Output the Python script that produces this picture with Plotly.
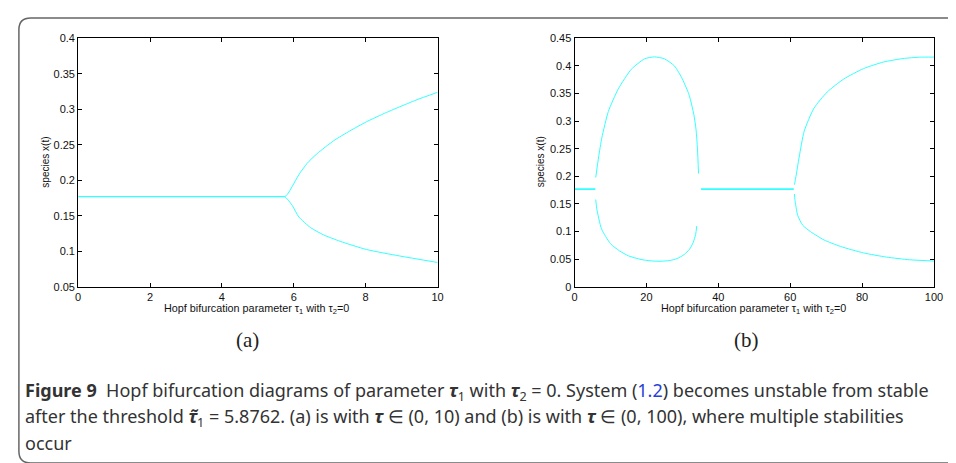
import plotly.graph_objects as go

W, H = 956, 463

# ---- data: panel (a), tau in (0,10) ----
a_steady_tau = [0, 5.75]
a_steady_val = [0.177, 0.177]
a_upper_tau = [5.75, 5.82, 5.96, 6.14, 6.37, 6.65, 7.11, 7.56, 8.02, 8.48, 8.94, 9.40, 10.0]
a_upper_val = [0.177, 0.180, 0.1917, 0.2078, 0.2238, 0.2376, 0.2558, 0.2696, 0.2824, 0.2934, 0.3034, 0.313, 0.324]
a_lower_tau = [5.75, 5.82, 5.96, 6.14, 6.47, 6.83, 7.29, 8.02, 8.94, 10.0]
a_lower_val = [0.177, 0.1735, 0.1643, 0.1483, 0.1332, 0.123, 0.114, 0.1025, 0.0934, 0.0842]

# ---- data: panel (b), tau in (0,100) ----
b_steady1_tau = [0, 5.8]
b_steady1_val = [0.177, 0.177]
b_steady2_tau = [35.2, 61.0]
b_steady2_val = [0.177, 0.177]
b_loop_up_tau = [5.9, 6.7, 7.6, 9.4, 12.2, 15.8, 19.5, 22.3, 25.0, 27.8, 30.0, 31.9, 33.2, 33.8, 34.2, 34.5]
b_loop_up_val = [0.198, 0.235, 0.270, 0.3175, 0.3587, 0.394, 0.4129, 0.4164, 0.4129, 0.400, 0.3763, 0.347, 0.3116, 0.285, 0.25, 0.205]
b_loop_lo_tau = [5.9, 6.2, 7.5, 10.0, 12.5, 15.0, 18.5, 21.0, 23.8, 26.5, 28.5, 30.5, 32.0, 33.0, 33.7, 34.0]
b_loop_lo_val = [0.158, 0.141, 0.105, 0.078, 0.065, 0.056, 0.0494, 0.047, 0.0462, 0.0475, 0.051, 0.0583, 0.068, 0.080, 0.095, 0.11]
b_up_tau = [61.2, 61.6, 62.5, 63.9, 66.6, 70.3, 74.9, 80.4, 85.9, 91.4, 96.0, 100.0]
b_up_val = [0.185, 0.1997, 0.235, 0.282, 0.3233, 0.3528, 0.3763, 0.3952, 0.407, 0.4134, 0.4159, 0.416]
b_lo_tau = [61.2, 61.3, 62.1, 63.5, 65.7, 69.4, 74.0, 80.4, 86.8, 93.2, 100.0]
b_lo_val = [0.168, 0.1585, 0.129, 0.1113, 0.0996, 0.0848, 0.073, 0.0613, 0.0537, 0.0489, 0.0466]

a_xticks = [0, 2, 4, 6, 8, 10]
a_yticks = [0.05, 0.1, 0.15, 0.2, 0.25, 0.3, 0.35, 0.4]
b_xticks = [0, 20, 40, 60, 80, 100]
b_yticks = [0, 0.05, 0.1, 0.15, 0.2, 0.25, 0.3, 0.35, 0.4, 0.45]

CYAN = "#33ffff"

fig = go.Figure()

def add(x, y, xa, ya, w=1.0):
    fig.add_trace(go.Scatter(x=x, y=y, mode="lines", xaxis=xa, yaxis=ya,
                             line=dict(color=CYAN, width=w, shape="spline", smoothing=0.6),
                             hoverinfo="skip", showlegend=False))

add(a_steady_tau, a_steady_val, "x", "y", 1.4)
add(a_upper_tau, a_upper_val, "x", "y")
add(a_lower_tau, a_lower_val, "x", "y")
add(b_steady1_tau, b_steady1_val, "x2", "y2", 1.8)
add(b_steady2_tau, b_steady2_val, "x2", "y2", 1.8)
add(b_loop_up_tau, b_loop_up_val, "x2", "y2")
add(b_loop_lo_tau, b_loop_lo_val, "x2", "y2")
add(b_up_tau, b_up_val, "x2", "y2")
add(b_lo_tau, b_lo_val, "x2", "y2")

def px(x):
    return x / W

def py(y):
    return 1 - y / H

tickfont = dict(family="Liberation Sans, Arial, sans-serif", size=11, color="#111")
axcommon = dict(showgrid=False, zeroline=False, showline=True, linecolor="black",
                linewidth=1, mirror="ticks", ticks="inside", ticklen=4,
                tickcolor="black", tickfont=tickfont)

ydom = [py(280), py(25)]
fig.update_layout(
    width=W, height=H,
    margin=dict(l=0, r=0, t=0, b=0),
    paper_bgcolor="white", plot_bgcolor="white",
    xaxis=dict(domain=[px(68), px(432)], range=[0, 10], tickvals=a_xticks,
               anchor="y", **axcommon),
    yaxis=dict(domain=ydom, range=[0.05, 0.4], tickvals=a_yticks,
               anchor="x", **axcommon),
    xaxis2=dict(domain=[px(570.7), px(934.7)], range=[0, 100], tickvals=b_xticks,
                anchor="y2", **axcommon),
    yaxis2=dict(domain=ydom, range=[0, 0.45], tickvals=b_yticks,
                anchor="x2", **axcommon),
)

small = dict(family="Liberation Sans, Arial, sans-serif", size=10, color="#111")
ann = []
for cx in (249, 752):
    ann.append(dict(x=px(cx), y=py(303), xref="paper", yref="paper",
                    text="Hopf bifurcation parameter τ<sub>1</sub> with τ<sub>2</sub>=0",
                    showarrow=False, font=dict(family="Liberation Sans, Arial, sans-serif", size=10.8, color="#111"),
                    xanchor="center", yanchor="middle"))
for cx in (34, 536):
    ann.append(dict(x=px(cx), y=py(152), xref="paper", yref="paper",
                    text="species x(t)", textangle=-90, showarrow=False,
                    font=small, xanchor="center", yanchor="middle"))
for cx, lab in ((240, "(a)"), (745, "(b)")):
    ann.append(dict(x=px(cx), y=py(335), xref="paper", yref="paper", text=lab,
                    showarrow=False, font=dict(family="Liberation Serif, DejaVu Serif, serif", size=21, color="#222"),
                    xanchor="center", yanchor="middle"))

capfont = dict(family="Noto Sans, Open Sans, sans-serif", size=18, color="#333")
lines = [
    "<b>Figure 9</b>  Hopf bifurcation diagrams of parameter <b><i>τ</i></b><sub>1</sub> with <b><i>τ</i></b><sub>2</sub> = 0. System (<span style='color:#2a3fd6'>1.2</span>) becomes unstable from stable",
    "after the threshold <b><i>τ̃</i></b><sub>1</sub> = 5.8762. (a) is with <b><i>τ</i></b> ∈ (0, 10) and (b) is with <b><i>τ</i></b> ∈ (0, 100), where multiple stabilities",
    "occur",
]
for i, t in enumerate(lines):
    ann.append(dict(x=px(12), y=py(388 + 26 * i), xref="paper", yref="paper", text=t,
                    showarrow=False, font=capfont, xanchor="left", yanchor="middle", align="left"))
fig.update_layout(annotations=ann)

# rounded border frame
x0, top, bot, r = 8, 4, 461, 12
path = (f"M {px(W + 20)},{py(top)} L {px(x0 + r)},{py(top)} "
        f"Q {px(x0)},{py(top)} {px(x0)},{py(top + r)} "
        f"L {px(x0)},{py(bot - r)} "
        f"Q {px(x0)},{py(bot)} {px(x0 + r)},{py(bot)} "
        f"L {px(W + 20)},{py(bot)}")
fig.add_shape(type="path", path=path, xref="paper", yref="paper",
              line=dict(color="#666", width=1.5))

fig.write_html("out.html")
